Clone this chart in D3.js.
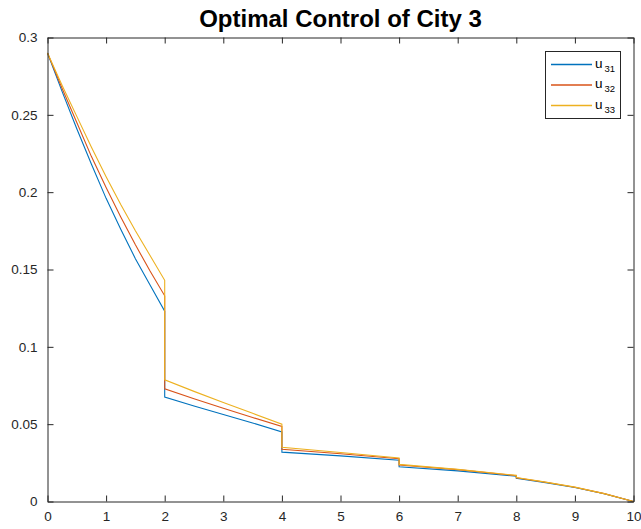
<!DOCTYPE html>
<html>
<head>
<meta charset="utf-8">
<script src="https://cdn.jsdelivr.net/npm/d3@7"></script>
<style>
body{margin:0;background:#fff;}
text{font-family:"Liberation Sans",Arial,sans-serif;}
.tick text{font-size:13.5px;}
</style>
</head>
<body>
<div id="chart"></div>
<script>
// data (vertical steps at t = 2,4,6,8)
var times=[0,0.25,0.5,0.75,1,1.25,1.5,1.75,2, 2,2.5,3,3.5,4, 4,5,6, 6,7,8, 8,8.5,9,9.5,10];
var u31=[0.290,0.265,0.241,0.218,0.196,0.176,0.157,0.140,0.123, 0.0675,0.0617,0.0562,0.0508,0.0450, 0.0319,0.0295,0.0267, 0.0224,0.0198,0.0163, 0.0150,0.0122,0.0090,0.0050,0];
var u32=[0.290,0.267,0.245,0.223,0.203,0.184,0.166,0.149,0.133, 0.0729,0.0665,0.0603,0.0543,0.0485, 0.0338,0.0309,0.0277, 0.0236,0.0206,0.0167, 0.0153,0.0124,0.0092,0.0051,0];
var u33=[0.290,0.269,0.249,0.229,0.210,0.192,0.175,0.159,0.143, 0.0787,0.0712,0.0640,0.0570,0.0500, 0.0351,0.0317,0.0281, 0.0240,0.0208,0.0169, 0.0155,0.0125,0.0093,0.0051,0];
var seriesNames=["31","32","33"];
var colors=["#0072BD","#D95319","#EDB120"];
var xTicks=[0,1,2,3,4,5,6,7,8,9,10];
var yTicks=[0,0.05,0.1,0.15,0.2,0.25,0.3];

var width=641, height=529;
// plot box (note: "top" is reserved on window, so use plotTop etc.)
var plotLeft=47.5, plotRight=633.5, plotTop=37.5, plotBottom=501.5;

var svg=d3.select("#chart").append("svg")
	.attr("width",width)
	.attr("height",height);

var x=d3.scaleLinear().domain([0,10]).range([plotLeft,plotRight]);
var y=d3.scaleLinear().domain([0,0.3]).range([plotBottom,plotTop]);

// title
svg.append("text")
	.attr("x",(plotLeft+plotRight)/2)
	.attr("y",27)
	.attr("text-anchor","middle")
	.style("font-size","24px")
	.style("font-weight","bold")
	.text("Optimal Control of City 3");

// lines
var allSeries=[u31,u32,u33];
var line=d3.line()
	.x(function(d,i){ return x(times[i]); })
	.y(function(d){ return y(d); });

svg.selectAll(".series")
	.data(allSeries)
	.enter()
	.append("path")
	.attr("class","series")
	.attr("fill","none")
	.attr("stroke",function(d,i){ return colors[i]; })
	.attr("stroke-width",1.1)
	.attr("d",line);

// axes, ticks inside, mirrored on top/right
var tickLen=6;
var axisColor="#262626";
var xb=svg.append("g").attr("transform","translate(0,"+plotBottom+")")
	.call(d3.axisBottom(x).tickValues(xTicks).tickSizeInner(-tickLen).tickSizeOuter(0).tickPadding(10));
var xt=svg.append("g").attr("transform","translate(0,"+plotTop+")")
	.call(d3.axisTop(x).tickValues(xTicks).tickSizeInner(-tickLen).tickSizeOuter(0).tickFormat(""));
var yl=svg.append("g").attr("transform","translate("+plotLeft+",0)")
	.call(d3.axisLeft(y).tickValues(yTicks).tickSizeInner(-tickLen).tickSizeOuter(0).tickPadding(10)
		.tickFormat(function(d){ return String(+d.toFixed(2)); }));
var yr=svg.append("g").attr("transform","translate("+plotRight+",0)")
	.call(d3.axisRight(y).tickValues(yTicks).tickSizeInner(-tickLen).tickSizeOuter(0).tickFormat(""));

[xb,xt,yl,yr].forEach(function(g){
	g.attr("font-size",13.5).attr("font-family","'Liberation Sans',Arial,sans-serif");
	g.select(".domain").attr("stroke",axisColor);
	g.selectAll(".tick line").attr("stroke",axisColor);
	g.selectAll(".tick text").attr("fill","#262626");
});

// legend
var lg=svg.append("g");
lg.append("rect")
	.attr("x",545.5).attr("y",51.5)
	.attr("width",75).attr("height",67)
	.attr("fill","#fff").attr("stroke",axisColor);
var legendY=[64.5,85,105.5];
seriesNames.forEach(function(n,i){
	lg.append("line")
		.attr("x1",551).attr("x2",592)
		.attr("y1",legendY[i]).attr("y2",legendY[i])
		.attr("stroke",colors[i]).attr("stroke-width",1.3);
	var t=lg.append("text")
		.attr("x",595)
		.attr("y",legendY[i]+3)
		.style("font-size","13.5px")
		.attr("fill","#000");
	t.append("tspan").text("u");
	t.append("tspan").attr("dx",2).attr("dy",4).style("font-size","9.5px").text(n);
});
</script>
</body>
</html>
